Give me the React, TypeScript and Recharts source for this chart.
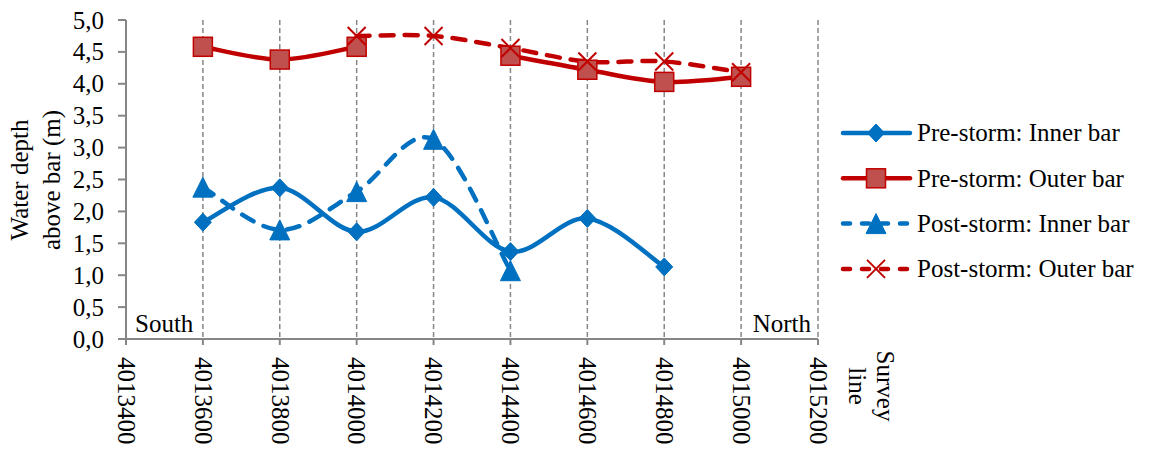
import React from 'react';
import { LineChart, Line, XAxis, YAxis, CartesianGrid, Legend, Customized } from 'recharts';

const surveyLine = [4013600, 4013800, 4014000, 4014200, 4014400, 4014600, 4014800, 4015000];
const preInner = [1.83, 2.37, 1.68, 2.22, 1.37, 1.89, 1.13, null];
const preOuter = [4.58, 4.38, 4.58, null, 4.44, 4.22, 4.03, 4.11];
const postInner = [2.38, 1.71, 2.31, 3.13, 1.07, null, null, null];
const postOuter = [null, null, 4.75, 4.75, 4.56, 4.35, 4.35, 4.18];

const xTicks = [4013400, 4013600, 4013800, 4014000, 4014200, 4014400, 4014600, 4014800, 4015000, 4015200];
const yTicks = [0, 0.5, 1, 1.5, 2, 2.5, 3, 3.5, 4, 4.5, 5];

const seriesNames = ['Pre-storm: Inner bar', 'Pre-storm: Outer bar', 'Post-storm: Inner bar', 'Post-storm: Outer bar'];

const data = surveyLine.map((x, i) => ({
  x,
  preInner: preInner[i],
  preOuter: preOuter[i],
  postInner: postInner[i],
  postOuter: postOuter[i],
}));

const FONT = 'Liberation Serif, Tinos, Times New Roman, DejaVu Serif, serif';
const BLUE = '#0070C0';
const RED = '#C00000';
const SQ_FILL = '#C0504D';
const GRAY = '#868686';

// Excel-like smoothed curve (Catmull-Rom style bezier)
function excelCurve(context: any) {
  let pts: number[][] = [];
  return {
    areaStart() {},
    areaEnd() {},
    lineStart() { pts = []; },
    lineEnd() {
      const n = pts.length;
      if (!n) return;
      context.moveTo(pts[0][0], pts[0][1]);
      if (n === 2) {
        context.lineTo(pts[1][0], pts[1][1]);
        return;
      }
      const t = 1 / 6;
      for (let i = 0; i < n - 1; i++) {
        const p0 = pts[i === 0 ? 0 : i - 1];
        const p1 = pts[i];
        const p2 = pts[i + 1];
        const p3 = pts[i + 2 < n ? i + 2 : n - 1];
        context.bezierCurveTo(
          p1[0] + (p2[0] - p0[0]) * t, p1[1] + (p2[1] - p0[1]) * t,
          p2[0] - (p3[0] - p1[0]) * t, p2[1] - (p3[1] - p1[1]) * t,
          p2[0], p2[1]
        );
      }
    },
    point(x: number, y: number) { pts.push([+x, +y]); },
  };
}

const Diamond = ({ cx, cy }: any) => (
  <polygon points={`${cx},${cy - 9} ${cx + 8.5},${cy} ${cx},${cy + 9} ${cx - 8.5},${cy}`} fill={BLUE} stroke={BLUE} strokeWidth={1} />
);
const Square = ({ cx, cy }: any) => (
  <rect x={cx - 9.5} y={cy - 9.5} width={19} height={19} fill={SQ_FILL} stroke={RED} strokeWidth={1.5} />
);
const Triangle = ({ cx, cy }: any) => (
  <polygon points={`${cx},${cy - 10} ${cx + 10},${cy + 10} ${cx - 10},${cy + 10}`} fill={BLUE} stroke={BLUE} strokeWidth={1} />
);
const Cross = ({ cx, cy }: any) => (
  <g stroke={RED} strokeWidth={2}>
    <line x1={cx - 9} y1={cy - 9} x2={cx + 9} y2={cy + 9} />
    <line x1={cx - 9} y1={cy + 9} x2={cx + 9} y2={cy - 9} />
  </g>
);

const makeDot = (Comp: any) => (p: any) => {
  if (p.value == null || p.cy == null || isNaN(p.cy)) return <g key={`e-${p.index}`} />;
  return <Comp key={`d-${p.index}`} cx={p.cx} cy={p.cy} />;
};

const markers = [Diamond, Square, Triangle, Cross];
const colors = [BLUE, RED, BLUE, RED];
const dashed = [false, false, true, true];

const textStyle = { fontFamily: FONT, fontSize: 25 };

const XTick = ({ x, y, payload }: any) => (
  <g transform={`translate(${x},${y + 10})`}>
    <text transform="rotate(90)" x={0} y={0} dy="0.33em" textAnchor="start" style={textStyle} fill="#000">
      {payload.value}
    </text>
  </g>
);

const YTick = ({ x, y, payload }: any) => (
  <text x={x} y={y} dy="0.34em" textAnchor="end" style={textStyle} fill="#000">
    {Number(payload.value).toFixed(1).replace('.', ',')}
  </text>
);

const renderLegend = () => (
  <svg width={313} height={180} style={{ display: 'block' }}>
    {seriesNames.map((name, i) => {
      const y = 22 + i * 45.3;
      const M = markers[i];
      return (
        <g key={name}>
          <line x1={3} x2={70} y1={y} y2={y} stroke={colors[i]} strokeWidth={4.5}
            strokeLinecap="round" strokeDasharray={dashed[i] ? '7 12' : undefined} />
          <M cx={36} cy={y} />
          <text x={77} y={y} dy="0.33em" style={textStyle} fill="#000">{name}</text>
        </g>
      );
    })}
  </svg>
);

const Annotations = () => (
  <g style={textStyle} fill="#000">
    <text x={135} y={332} style={textStyle}>South</text>
    <text x={811} y={332} textAnchor="end" style={textStyle}>North</text>
    <text transform="rotate(-90, 20, 180)" x={20} y={180} textAnchor="middle" style={textStyle}>
      <tspan x={20} dy="0.33em">Water depth</tspan>
      <tspan x={20} dy="1.25em">above bar (m)</tspan>
    </text>
    <text transform="rotate(90, 885, 386)" x={885} y={386} textAnchor="middle" style={textStyle}>
      <tspan x={885} dy="0.33em">Survey</tspan>
      <tspan x={885} dy="1.12em">line</tspan>
    </text>
  </g>
);

export default function App() {
  const keys = ['preInner', 'preOuter', 'postInner', 'postOuter'];
  return (
    <div style={{ position: 'absolute', left: 0, top: 0, width: 1153, height: 450, background: '#fff', fontFamily: FONT }}>
      <LineChart width={1153} height={450} data={data} margin={{ top: 20, right: 22, bottom: 0, left: 0 }}>
        <CartesianGrid horizontal={false} vertical={true} stroke={GRAY} strokeDasharray="5 3" strokeWidth={1.5} />
        <XAxis dataKey="x" type="number" domain={[4013400, 4015200]} ticks={xTicks} interval={0}
          height={111} tick={<XTick />} tickSize={6} stroke={GRAY}
          axisLine={{ stroke: GRAY, strokeWidth: 2 }} tickLine={{ stroke: GRAY, strokeWidth: 2 }} />
        <YAxis type="number" domain={[0, 5]} ticks={yTicks} interval={0} width={126} tickSize={8} tickMargin={14}
          tick={<YTick />}
          axisLine={{ stroke: GRAY, strokeWidth: 2 }} tickLine={{ stroke: GRAY, strokeWidth: 2 }} />
        <Legend layout="vertical" align="right" verticalAlign="top" content={renderLegend}
          wrapperStyle={{ left: 840, top: 111, width: 313, height: 180 }} />
        {keys.map((k, i) => (
          <Line key={k} dataKey={k} name={seriesNames[i]} type={excelCurve as any} stroke={colors[i]} strokeWidth={4.5}
            strokeLinecap="round" strokeDasharray={dashed[i] ? '13 11' : undefined}
            dot={makeDot(markers[i])} activeDot={false} isAnimationActive={false} connectNulls={false} />
        ))}
        <Customized component={<Annotations />} />
      </LineChart>
    </div>
  );
}
